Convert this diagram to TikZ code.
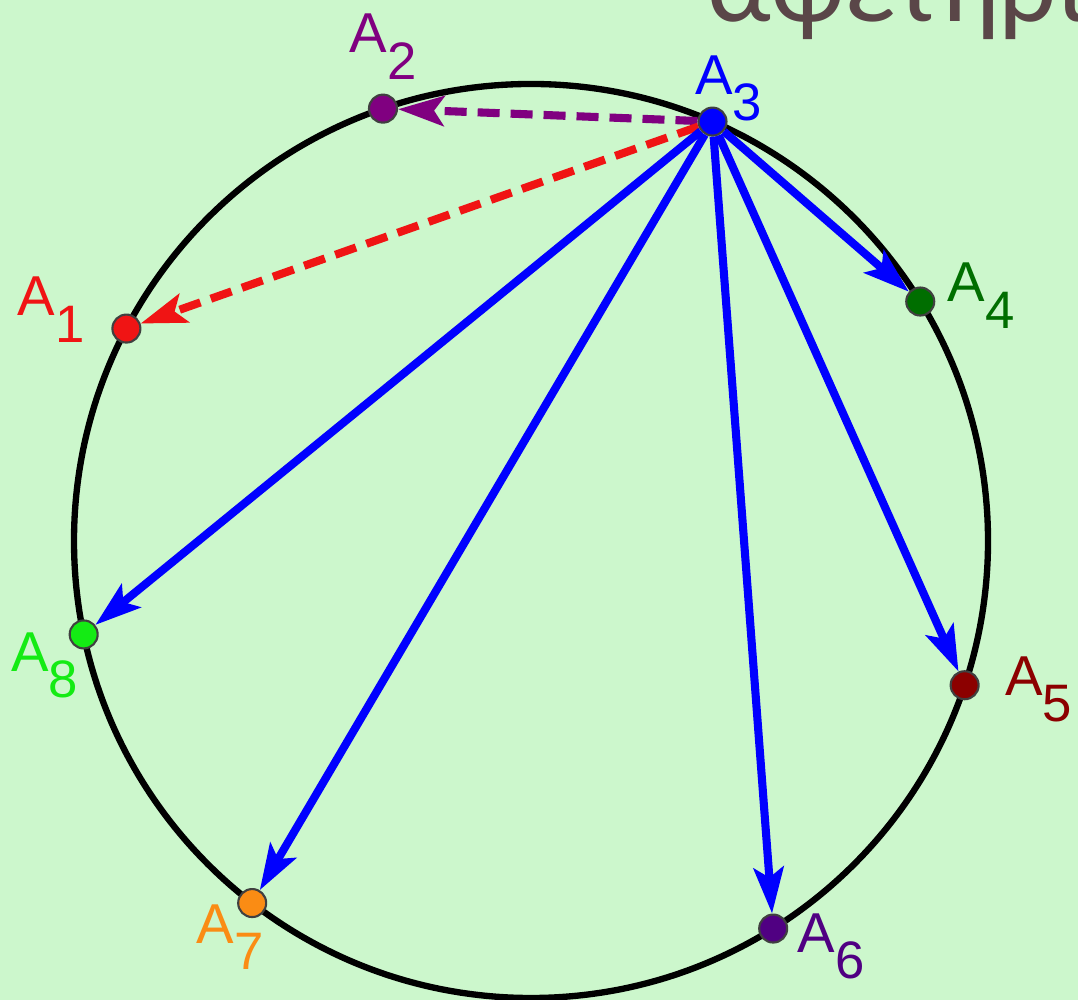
\documentclass[tikz,border=0pt]{standalone}
\usepackage{fontspec}
\setmainfont{Liberation Sans}
\newfontfamily\headfont{Carlito}
\usetikzlibrary{arrows.meta}

\definecolor{bgc}{RGB}{204,247,204}
\definecolor{headc}{RGB}{90,70,72}
\definecolor{cA1}{RGB}{240,20,20}
\definecolor{cA2}{RGB}{128,0,128}
\definecolor{cA3}{RGB}{0,0,255}
\definecolor{cA4}{RGB}{0,110,0}
\definecolor{cA5}{RGB}{140,0,0}
\definecolor{cA6}{RGB}{80,0,130}
\definecolor{cA7}{RGB}{250,140,20}
\definecolor{cA8}{RGB}{20,235,20}

\newcommand{\pname}[1]{A\raisebox{-7.5pt}{\fontsize{15}{15}\selectfont#1}}

\begin{document}
\begin{tikzpicture}[
        line join=round,
        pt/.style={circle, draw=black!75, line width=0.6pt, minimum size=2.8mm, inner sep=0pt},
        lbl/.style={inner sep=0pt, font=\fontsize{16}{16}\selectfont},
        vec/.style={line width=2.3pt, -{Stealth[length=4.6mm, width=3mm, inset=1mm]}},
        dsh/.style={vec, dash pattern=on 2.2mm off 1.1mm}
    ]
        \useasboundingbox (0,0) rectangle (10.78,10);
        \fill[bgc] (0,0) rectangle (10.78,10);

        % titolo tagliato in alto
        \node[anchor=base west, inner sep=0pt, text=headc,
            font=\headfont\fontsize{32}{32}\selectfont] (head) at (7.07,9.78) {αφετηρία};

        \begin{scope}[shift={(5.31,4.59)}]
            \def\R{4.57}
            \draw[line width=1.8pt] (0,0) circle (\R);

            % punti sulla circonferenza
            \foreach \n/\a in {1/152.3, 2/108.9, 3/66.6, 4/31.6, 5/341.6, 6/302, 7/232.4, 8/191.8}{
                \node[pt, fill=cA\n] (a\n) at (\a:\R) {};
            }

            % vettori da A3
            \draw[dsh, cA2] (a3) -- (a2);
            \draw[dsh, cA1] (a3) -- (a1);
            \foreach \n in {4,5,6,7,8}{
                \draw[vec, cA3] (a3) -- (a\n);
            }

            % etichette
            \foreach \n/\dx/\dy in {1/-0.75/0.19, 2/0/0.62, 3/0.16/0.33, 4/0.61/0.06,
                                    5/0.74/-0.04, 6/0.58/-0.18, 7/-0.22/-0.34, 8/-0.39/-0.31}{
                \node[lbl, text=cA\n] (l\n) at ([shift={(\dx,\dy)}]a\n) {\pname{\n}};
            }
        \end{scope}
    \end{tikzpicture}
\end{document}
